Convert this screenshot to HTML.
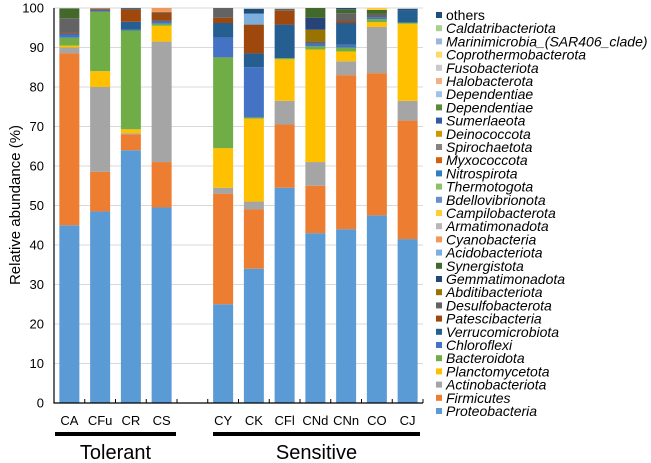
<!DOCTYPE html>
<html><head><meta charset="utf-8"><style>
body{margin:0;background:#fff;}
svg{display:block;font-family:"Liberation Sans",Arial,sans-serif;}
</style></head><body>
<svg id="chart" width="651" height="463"></svg>
<script>
const categories=["CA","CFu","CR","CS","","CY","CK","CFl","CNd","CNn","CO","CJ"];
const seriesNames=["Proteobacteria","Firmicutes","Actinobacteriota","Planctomycetota","Bacteroidota","Chloroflexi","Verrucomicrobiota","Patescibacteria","Desulfobacterota","Abditibacteriota","Gemmatimonadota","Synergistota","Acidobacteriota","Cyanobacteria","Armatimonadota","Campilobacterota","Bdellovibrionota","Thermotogota","Nitrospirota","Myxococcota","Spirochaetota","Deinococcota","Sumerlaeota","Dependentiae","Dependentiae","Halobacterota","Fusobacteriota","Coprothermobacterota","Marinimicrobia_(SAR406_clade)","Caldatribacteriota","others"];
const colors=["#5B9BD5","#ED7D31","#A5A5A5","#FFC000","#70AD47","#4472C4","#255E91","#9E480E","#636363","#997300","#264478","#43682B","#7CAFDD","#F1975A","#B7B7B7","#FFCD33","#698ED0","#8CC168","#327DC2","#D26012","#848484","#CC9A00","#335AA1","#5A8A39","#A2C1E6","#F4B183","#C9C9C9","#FFD966","#9DB3E0","#A9D18E","#1F4E79"];
const vCA=[45,43.5,1.5,0.5,2,0.8,0.3,0.3,3.5,0,0,2.5];
const vCFu=[48.5,10,21.5,4,15,0.2,0.2,0.3,0.2];
const vCR=[64,4,0.3,1,25,0.2,2,3,0.5];
const vCS=[49.5,11.5,30.5,4,0.5,0.5,0.3,2,0.2,0,0,0,0,1.5];
const vGap=[];
const vCY=[25,28,1.5,10,23,5,3.7,1.3,2.5];
const vCK=[34,15,2,21,0.3,12.7,3.5,7.3,0,0,0,0,2.8,0,0,0,0,0,0,0,0,0,0,0,0,0,0,0,0,0,1.2];
const vCFl=[54.5,16,6,10.5,0.3,0,8.5,3.5,0.5];
const vCNd=[43,12,6,28.5,0.8,0.7,0,0,0.5,3,3,2.5];
const vCNn=[44,39,3.5,2.5,1,0.7,5.5,0.5,2,0,0,1,0,0,0,0,0,0,0,0,0,0,0,0,0,0,0,0,0,0,0.3];
const vCO=[47.5,36,11.7,1.2,0.8,0.5,0,0,0.8,0,0,1,0,0,0,0.5];
const vCJ=[41.5,30,5,19.5,0.3,0,3,0,0,0,0,0,0,0,0,0,0,0,0,0,0,0,0,0,0,0,0,0,0,0,0.5];
const values=[vCA,vCFu,vCR,vCS,vGap,vCY,vCK,vCFl,vCNd,vCNn,vCO,vCJ];
const yTicks=[0,10,20,30,40,50,60,70,80,90,100];

const NS="http://www.w3.org/2000/svg";
const svg=document.getElementById('chart');
const L=54,R=423,T=8,B=403;
const slot=(R-L)/categories.length;
function xC(i){return L+slot*(i+0.5);}
function y(v){return B-(v/100)*(B-T);}
function mk(tag,attrs,parent){const e=document.createElementNS(NS,tag);for(const k in attrs)e.setAttribute(k,attrs[k]);(parent||svg).appendChild(e);return e;}

yTicks.forEach(t=>{
  const g=mk('line',{x1:L,x2:R,y1:y(t),y2:y(t),stroke:'#d9d9d9','stroke-width':1});
  
  
  const tx=mk('text',{x:L-10,y:y(t)+4.5,'text-anchor':'end','font-size':13,fill:'#000'});
  tx.textContent=t;
  
  
});
values.forEach((arr,i)=>{
  let acc=0;
  arr.forEach((v,s)=>{
    if(v<=0)return;
    const r=mk('rect',{x:xC(i)-10,width:20,y:y(Math.min(acc+v,100)),height:y(acc)-y(Math.min(acc+v,100)),fill:colors[s]});
    
    
    acc+=v;
  });
  if(categories[i]){
    const t=mk('text',{x:xC(i),y:425,'text-anchor':'middle','font-size':13});
    t.textContent=categories[i];
    
    
  }
});
const ax=mk('path',{d:`M${L},${T} V${B} H${R}`,stroke:'#000','stroke-width':1.2,fill:'none'});


for(let i=0;i<=categories.length;i++){
  const tk=mk('line',{x1:L+slot*i,x2:L+slot*i,y1:B,y2:B-4,stroke:'#000'});
  
  
}
const yl=mk('text',{transform:'translate(20,205) rotate(-90)','text-anchor':'middle','font-size':15});
yl.textContent='Relative abundance (%)';


[["Tolerant",55,176],["Sensitive",213,420]].forEach(g=>{
  const l=mk('rect',{x:g[1],y:432,width:g[2]-g[1],height:4,fill:'#000'});
  
  
  const t=mk('text',{x:(g[1]+g[2])/2,y:459,'text-anchor':'middle','font-size':20});
  t.textContent=g[0];
  
  
});
for(let k=seriesNames.length-1,row=0;k>=0;k--,row++){
  const yy=15+row*13.2;
  const sq=mk('rect',{x:436,y:yy-3,width:6,height:6,fill:colors[k]});
  
  
  const t=mk('text',{x:446,y:yy+5,'font-size':14,'font-style':k===seriesNames.length-1?'normal':'italic'});
  t.textContent=seriesNames[k];
  
  
}
</script>
</body></html>
